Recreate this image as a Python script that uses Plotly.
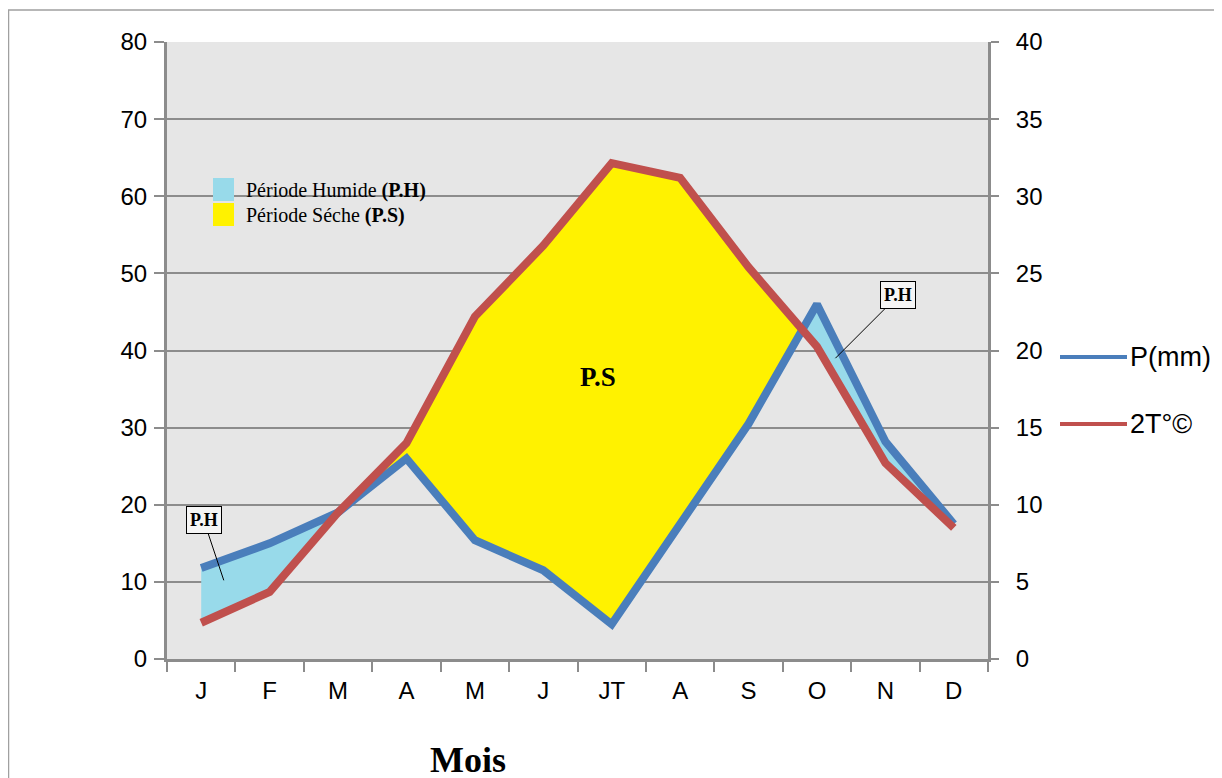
import plotly.graph_objects as go

# ---------------- data ----------------
months = ["J", "F", "M", "A", "M", "J", "JT", "A", "S", "O", "N", "D"]
precip_mm = [11.8, 15.0, 19.0, 26.0, 15.4, 11.5, 4.5, 17.5, 30.5, 46.0, 28.2, 17.5]
temp_c = [2.35, 4.35, 9.5, 14.0, 22.2, 26.8, 32.15, 31.2, 25.4, 20.25, 12.7, 8.5]
left_ticks = [0, 10, 20, 30, 40, 50, 60, 70, 80]
right_ticks = [0, 5, 10, 15, 20, 25, 30, 35, 40]

BLUE = "#4A7EBB"
RED = "#C0504D"
LIGHTBLUE = "#98DAEA"
YELLOW = "#FFF200"
GRID = "#8C8C8C"

xs = list(range(len(months)))
two_t = [2 * t for t in temp_c]


def split_regions(x, a, b):
    """Split the area between curves a and b into polygons by sign of a-b."""
    pts = []
    for i in range(len(x)):
        d = a[i] - b[i]
        if i > 0:
            dp = a[i - 1] - b[i - 1]
            if dp * d < 0:
                t = dp / (dp - d)
                xc = x[i - 1] + t * (x[i] - x[i - 1])
                yc = a[i - 1] + t * (a[i] - a[i - 1])
                pts.append((xc, yc, yc, 0.0))
        pts.append((x[i], a[i], b[i], d))
    runs = []
    cur = [pts[0]]
    for p in pts[1:]:
        cur.append(p)
        if p[3] == 0:
            runs.append(cur)
            cur = [p]
    if len(cur) > 1:
        runs.append(cur)
    pos, neg = ([], []), ([], [])
    for r in runs:
        s = sum(p[3] for p in r)
        if s == 0:
            continue
        px_ = [p[0] for p in r] + [p[0] for p in reversed(r)]
        py_ = [p[1] for p in r] + [p[2] for p in reversed(r)]
        tgt = pos if s > 0 else neg
        tgt[0].extend(px_ + [None])
        tgt[1].extend(py_ + [None])
    return pos, neg


humid, dry = split_regions(xs, precip_mm, two_t)

fig = go.Figure()

fig.add_trace(go.Scatter(
    x=humid[0], y=humid[1], mode="lines", fill="toself", fillcolor=LIGHTBLUE,
    line=dict(width=0, color=LIGHTBLUE), name="Période Humide (P.H)",
    showlegend=False, hoverinfo="skip"))
fig.add_trace(go.Scatter(
    x=dry[0], y=dry[1], mode="lines", fill="toself", fillcolor=YELLOW,
    line=dict(width=0, color=YELLOW), name="Période Séche (P.S)",
    showlegend=False, hoverinfo="skip"))

fig.add_trace(go.Scatter(
    x=xs, y=precip_mm, mode="lines", name="P(mm)",
    line=dict(color=BLUE, width=8), showlegend=False))
fig.add_trace(go.Scatter(
    x=xs, y=temp_c, mode="lines", name="2T°©", yaxis="y2",
    line=dict(color=RED, width=8), showlegend=False))

# page offset of the plotly div (body margin)
OFF = 8
W, H = 1214, 800
L, R, T, B = 159, 234, 34, 149
pw, ph = W - L - R, H - T - B


def px(page_x):
    return (page_x - OFF - L) / pw


def py(page_y):
    return (H - B - (page_y - OFF)) / ph


SANS = "Liberation Sans, Arial, sans-serif"
SERIF = "Liberation Serif, Times New Roman, serif"
tick_font = dict(family=SANS, size=24, color="#000000")

fig.update_layout(
    width=W, height=H,
    margin=dict(l=L, r=R, t=T, b=B, pad=0),
    paper_bgcolor="white",
    plot_bgcolor="#E6E6E6",
    showlegend=False,
    xaxis=dict(
        range=[-0.5, len(months) - 0.5],
        tickmode="array", tickvals=xs, ticktext=months,
        ticks="", showgrid=False, zeroline=False,
        showline=True, linecolor=GRID, linewidth=3,
        tickfont=tick_font, ticklabelstandoff=8,
        minor=dict(tick0=-0.5, dtick=1, ticks="outside", ticklen=10,
                   tickwidth=2, tickcolor=GRID, showgrid=False),
    ),
    yaxis=dict(
        range=[0, 80], tickmode="array", tickvals=left_ticks,
        showgrid=True, gridcolor=GRID, gridwidth=2, zeroline=False,
        showline=True, linecolor=GRID, linewidth=3,
        ticks="outside", ticklen=10, tickwidth=2, tickcolor=GRID,
        tickfont=tick_font, ticklabelstandoff=2,
    ),
    yaxis2=dict(
        range=[0, 40], tickmode="array", tickvals=right_ticks,
        overlaying="y", side="right", showgrid=False, zeroline=False,
        showline=True, linecolor=GRID, linewidth=3,
        ticks="outside", ticklen=8, tickwidth=2, tickcolor=GRID,
        tickfont=tick_font, ticklabelstandoff=12,
    ),
)

# ---- right-hand legend (line samples + labels) ----
for name, color, ypage in [("P(mm)", BLUE, 357), ("2T°©", RED, 424)]:
    fig.add_shape(type="line", xref="paper", yref="paper",
                  x0=px(1060), x1=px(1127), y0=py(ypage), y1=py(ypage),
                  line=dict(color=color, width=4))
    fig.add_annotation(x=px(1128), y=py(ypage), xref="paper", yref="paper",
                       text=name, showarrow=False, xanchor="left", yanchor="middle",
                       font=dict(family=SANS, size=27, color="#000"))

# ---- top-left legend (coloured squares + labels) ----
for label, color, y0, y1 in [("Période Humide <b>(P.H)</b>", LIGHTBLUE, 178, 201),
                             ("Période Séche <b>(P.S)</b>", YELLOW, 203, 226)]:
    fig.add_shape(type="rect", xref="paper", yref="paper",
                  x0=px(213), x1=px(234), y0=py(y1), y1=py(y0),
                  line=dict(width=0), fillcolor=color)
    fig.add_annotation(x=px(244), y=py((y0 + y1) / 2 + 1), xref="paper", yref="paper",
                       text=label, showarrow=False, xanchor="left", yanchor="middle",
                       font=dict(family=SERIF, size=20, color="#000"))

ann_font = dict(family=SERIF, color="#000")
fig.add_annotation(x=0.33, y=10.2, xref="x", yref="y", text="<b>P.H</b>",
                   showarrow=True, arrowhead=0, arrowwidth=1, arrowcolor="#000",
                   ax=-20, ay=-60, font=dict(size=18, **ann_font),
                   bordercolor="#000", borderwidth=1, borderpad=3, bgcolor="#F5F5F5")
fig.add_annotation(x=9.27, y=39.0, xref="x", yref="y", text="<b>P.H</b>",
                   showarrow=True, arrowhead=0, arrowwidth=1, arrowcolor="#000",
                   ax=63, ay=-63, font=dict(size=18, **ann_font),
                   bordercolor="#000", borderwidth=1, borderpad=3, bgcolor="#F5F5F5")
fig.add_annotation(x=5.8, y=36.6, xref="x", yref="y", text="<b>P.S</b>",
                   showarrow=False, font=dict(size=27, **ann_font))
fig.add_annotation(x=px(468), y=py(782), xref="paper", yref="paper", text="<b>Mois</b>",
                   showarrow=False, font=dict(size=36, **ann_font))

# outer frame of the picture
fig.add_shape(type="rect", xref="paper", yref="paper",
              x0=px(8.5), x1=px(1221), y0=py(790), y1=py(10),
              line=dict(color="#A0A0A0", width=1.5), layer="below")

fig.write_html("out.html")
